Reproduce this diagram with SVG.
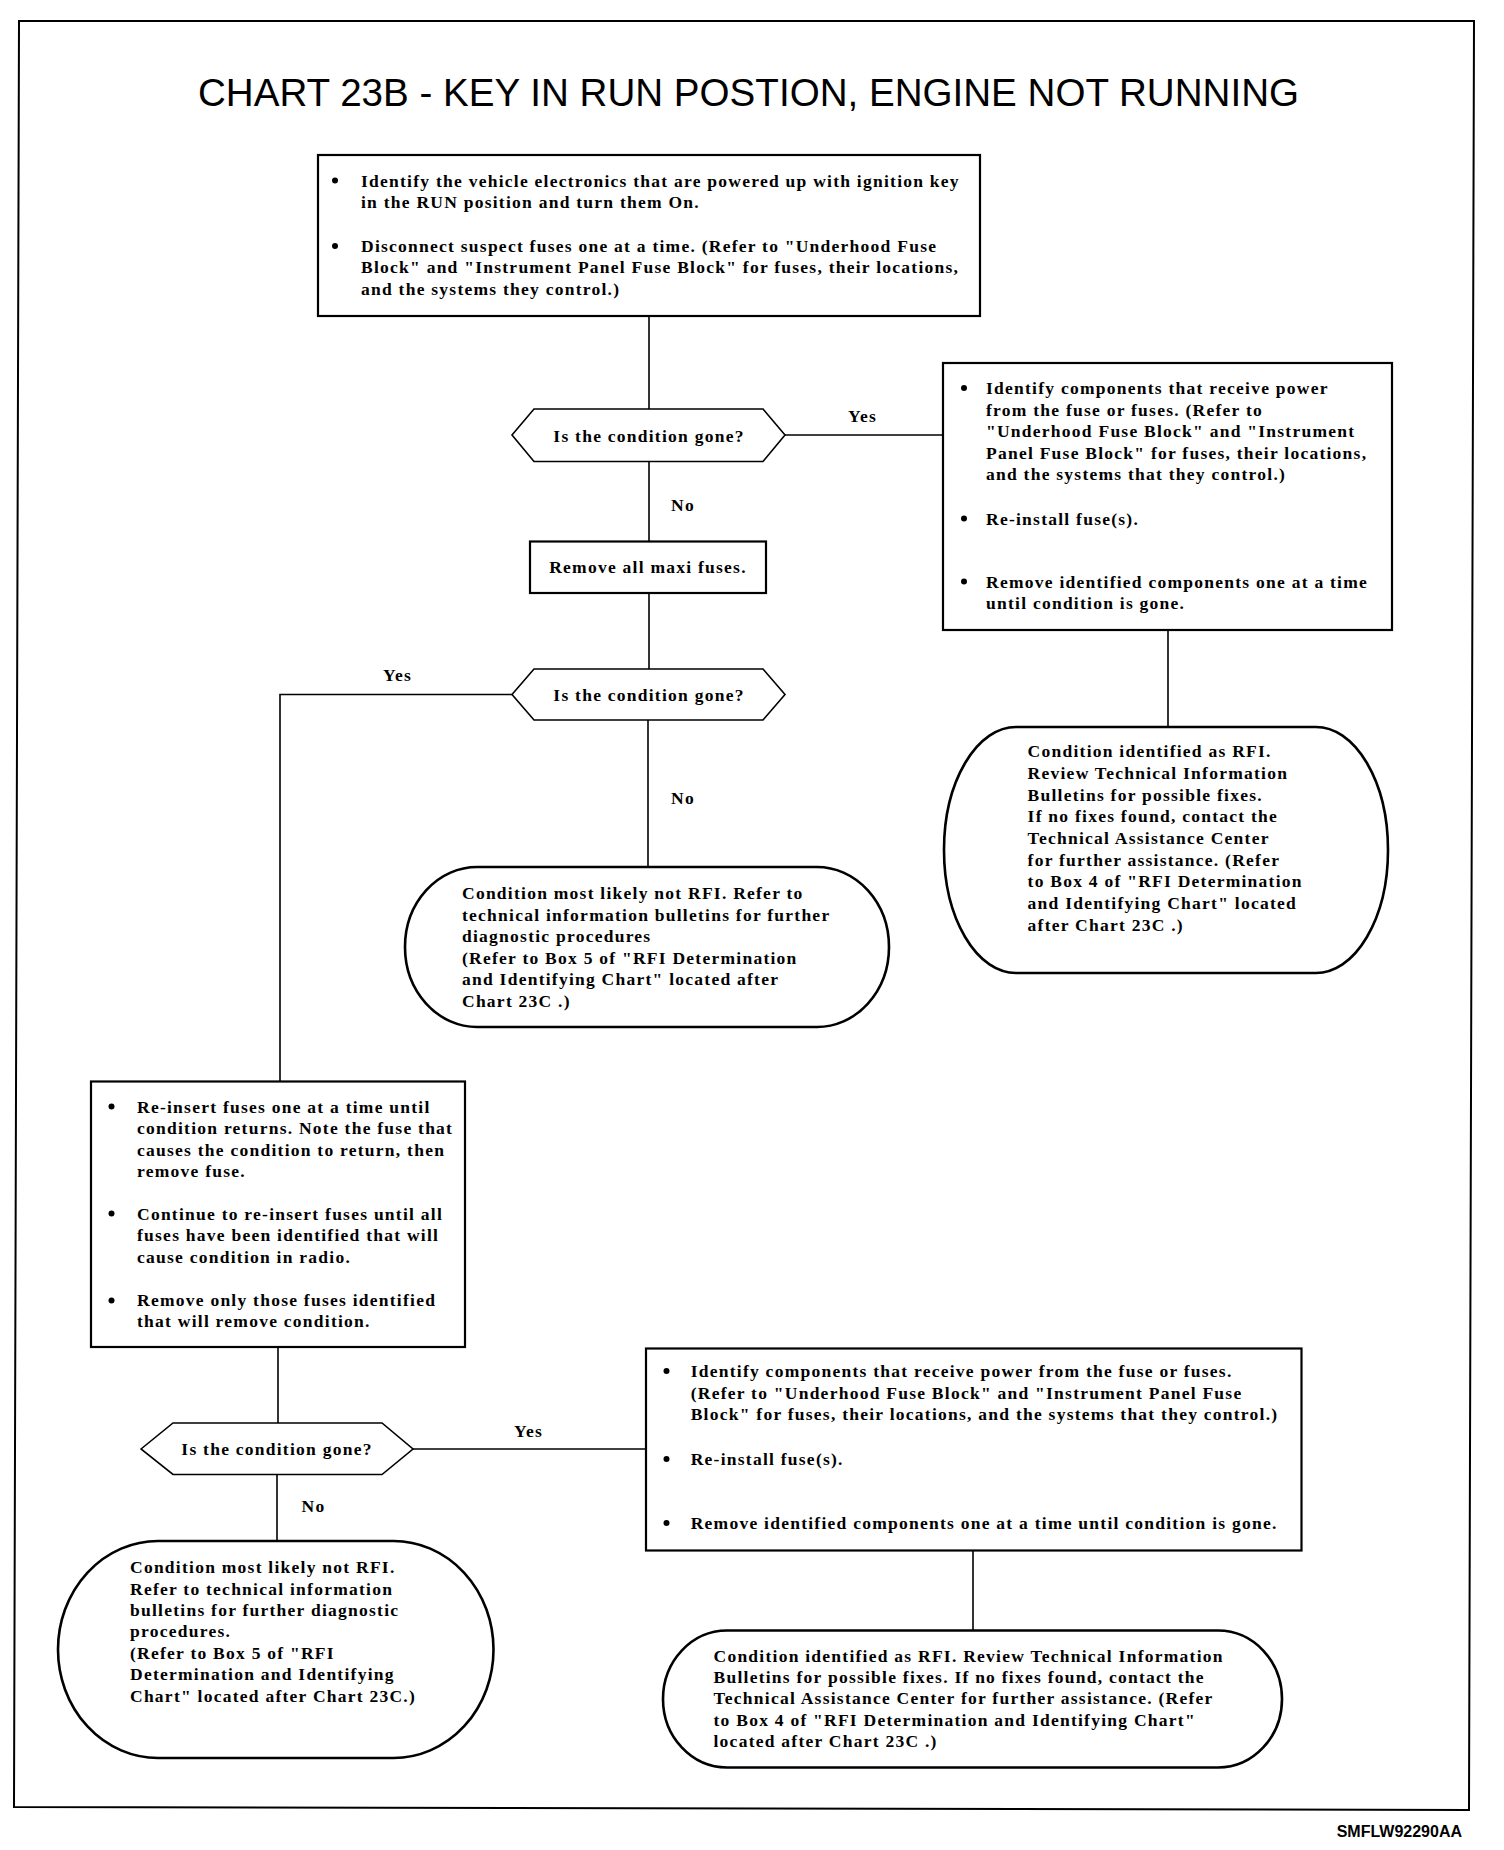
<svg xmlns="http://www.w3.org/2000/svg" width="1504" height="1850" viewBox="0 0 1504 1850">
<style>
.t{font-family:"Liberation Serif","Times New Roman",serif;font-weight:bold;font-size:17.5px;letter-spacing:1.25px;fill:#000}
.c{text-anchor:middle}
.box{fill:#fff;stroke:#000;stroke-width:2.2}
.term{fill:#fff;stroke:#000;stroke-width:2.6}
.dec{fill:#fff;stroke:#000;stroke-width:1.6}
.conn{fill:none;stroke:#000;stroke-width:1.6}
.frame{fill:none;stroke:#000;stroke-width:2}
.title{font-family:"Liberation Sans",Arial,sans-serif;font-size:38.6px;text-anchor:middle;fill:#000}
.code{font-family:"Liberation Sans",Arial,sans-serif;font-size:16px;font-weight:bold;text-anchor:end;fill:#000}
.dot{fill:#000}
</style>
<rect x="0" y="0" width="1504" height="1850" fill="#fff"/>
<polygon class="frame" points="19,21 1474,21 1469,1810 14,1807"/>
<text class="title" x="748.5" y="106">CHART 23B - KEY IN RUN POSTION, ENGINE NOT RUNNING</text>

<g id="connectors">
<path class="conn" d="M649 316 V409"/>
<path class="conn" d="M649 461.5 V541.5"/>
<path class="conn" d="M649 593 V669"/>
<path class="conn" d="M512 694.5 H280 V1081.5"/>
<path class="conn" d="M648 720 V867"/>
<path class="conn" d="M785 435 H943"/>
<path class="conn" d="M1168 630 V727"/>
<path class="conn" d="M278 1347 V1423"/>
<path class="conn" d="M413 1449 H646"/>
<path class="conn" d="M277 1474.5 V1541"/>
<path class="conn" d="M973 1550.5 V1630.5"/>
<text class="t" x="848" y="422">Yes</text>
<text class="t" x="671" y="511">No</text>
<text class="t" x="383" y="681">Yes</text>
<text class="t" x="671" y="804">No</text>
<text class="t" x="514" y="1437">Yes</text>
<text class="t" x="301.5" y="1512">No</text>
</g>

<g id="box1">
<rect class="box" x="318" y="155" width="662" height="161"/>
<circle class="dot" cx="335" cy="180.5" r="3"/>
<circle class="dot" cx="335" cy="246" r="3"/>
<text class="t" x="361" y="186.6">Identify the vehicle electronics that are powered up with ignition key</text>
<text class="t" x="361" y="207.5">in the RUN position and turn them On.</text>
<text class="t" x="361" y="252">Disconnect suspect fuses one at a time. (Refer to "Underhood Fuse</text>
<text class="t" x="361" y="273">Block" and "Instrument Panel Fuse Block" for fuses, their locations,</text>
<text class="t" x="361" y="294.7">and the systems they control.)</text>
</g>

<g id="decision1">
<polygon class="dec" points="512,435 534,409 763,409 785,435 763,461.5 534,461.5"/>
<text class="t c" x="649" y="441.5">Is the condition gone?</text>
</g>

<g id="box2">
<rect class="box" x="943" y="363" width="449" height="267"/>
<circle class="dot" cx="964" cy="388" r="3"/>
<circle class="dot" cx="964" cy="518.5" r="3"/>
<circle class="dot" cx="964" cy="581.5" r="3"/>
<text class="t" x="986" y="394">Identify components that receive power</text>
<text class="t" x="986" y="415.5">from the fuse or fuses. (Refer to</text>
<text class="t" x="986" y="437">"Underhood Fuse Block" and "Instrument</text>
<text class="t" x="986" y="458.5">Panel Fuse Block" for fuses, their locations,</text>
<text class="t" x="986" y="480">and the systems that they control.)</text>
<text class="t" x="986" y="524.5">Re-install fuse(s).</text>
<text class="t" x="986" y="587.5">Remove identified components one at a time</text>
<text class="t" x="986" y="609">until condition is gone.</text>
</g>

<g id="box-maxi">
<rect class="box" x="530" y="541.5" width="236" height="51.5"/>
<text class="t c" x="648" y="572.5">Remove all maxi fuses.</text>
</g>

<g id="decision2">
<polygon class="dec" points="512,694.5 534,669 763,669 785,694.5 763,720 534,720"/>
<text class="t c" x="649" y="701">Is the condition gone?</text>
</g>

<g id="oval2">
<rect class="term" x="944" y="727" width="444" height="246" rx="72" ry="123"/>
<text class="t" x="1027.6" y="757">Condition identified as RFI.</text>
<text class="t" x="1027.6" y="779">Review Technical Information</text>
<text class="t" x="1027.6" y="800.5">Bulletins for possible fixes.</text>
<text class="t" x="1027.6" y="822">If no fixes found, contact the</text>
<text class="t" x="1027.6" y="844">Technical Assistance Center</text>
<text class="t" x="1027.6" y="865.5">for further assistance. (Refer</text>
<text class="t" x="1027.6" y="887">to Box 4 of "RFI Determination</text>
<text class="t" x="1027.6" y="909">and Identifying Chart" located</text>
<text class="t" x="1027.6" y="930.5">after Chart 23C .)</text>
</g>

<g id="oval1">
<rect class="term" x="405" y="867" width="484" height="160" rx="72" ry="80"/>
<text class="t" x="462" y="899">Condition most likely not RFI. Refer to</text>
<text class="t" x="462" y="920.5">technical information bulletins for further</text>
<text class="t" x="462" y="942">diagnostic procedures</text>
<text class="t" x="462" y="963.5">(Refer to Box 5 of "RFI Determination</text>
<text class="t" x="462" y="985">and Identifying Chart" located after</text>
<text class="t" x="462" y="1006.5">Chart 23C .)</text>
</g>

<g id="box3">
<rect class="box" x="91" y="1081.5" width="374" height="265.5"/>
<circle class="dot" cx="111.5" cy="1106.5" r="3"/>
<circle class="dot" cx="111.5" cy="1213.5" r="3"/>
<circle class="dot" cx="111.5" cy="1300.5" r="3"/>
<text class="t" x="137" y="1112.5">Re-insert fuses one at a time until</text>
<text class="t" x="137" y="1134.3">condition returns. Note the fuse that</text>
<text class="t" x="137" y="1156">causes the condition to return, then</text>
<text class="t" x="137" y="1177.3">remove fuse.</text>
<text class="t" x="137" y="1219.5">Continue to re-insert fuses until all</text>
<text class="t" x="137" y="1240.8">fuses have been identified that will</text>
<text class="t" x="137" y="1262.5">cause condition in radio.</text>
<text class="t" x="137" y="1306.4">Remove only those fuses identified</text>
<text class="t" x="137" y="1327.3">that will remove condition.</text>
</g>

<g id="decision3">
<polygon class="dec" points="141,1449 173,1423 382,1423 413,1449 382,1474.5 173,1474.5"/>
<text class="t c" x="277" y="1455">Is the condition gone?</text>
</g>

<g id="box4">
<rect class="box" x="646" y="1348.5" width="655.5" height="202"/>
<circle class="dot" cx="666.5" cy="1371" r="3"/>
<circle class="dot" cx="666.5" cy="1459" r="3"/>
<circle class="dot" cx="666.5" cy="1523" r="3"/>
<text class="t" x="690.7" y="1377">Identify components that receive power from the fuse or fuses.</text>
<text class="t" x="690.7" y="1398.5">(Refer to "Underhood Fuse Block" and "Instrument Panel Fuse</text>
<text class="t" x="690.7" y="1420">Block" for fuses, their locations, and the systems that they control.)</text>
<text class="t" x="690.7" y="1465">Re-install fuse(s).</text>
<text class="t" x="690.7" y="1529">Remove identified components one at a time until condition is gone.</text>
</g>

<g id="oval3">
<rect class="term" x="58" y="1541" width="435.5" height="217" rx="100" ry="108.5"/>
<text class="t" x="130" y="1573.3">Condition most likely not RFI.</text>
<text class="t" x="130" y="1595">Refer to technical information</text>
<text class="t" x="130" y="1616.3">bulletins for further diagnostic</text>
<text class="t" x="130" y="1637.3">procedures.</text>
<text class="t" x="130" y="1658.5">(Refer to Box 5 of "RFI</text>
<text class="t" x="130" y="1680">Determination and Identifying</text>
<text class="t" x="130" y="1702">Chart" located after Chart 23C.)</text>
</g>

<g id="oval4">
<rect class="term" x="663" y="1630.5" width="619" height="137" rx="64" ry="68.5"/>
<text class="t" x="713.5" y="1662">Condition identified as RFI. Review Technical Information</text>
<text class="t" x="713.5" y="1682.5">Bulletins for possible fixes. If no fixes found, contact the</text>
<text class="t" x="713.5" y="1703.5">Technical Assistance Center for further assistance. (Refer</text>
<text class="t" x="713.5" y="1725.5">to Box 4 of "RFI Determination and Identifying Chart"</text>
<text class="t" x="713.5" y="1747">located after Chart 23C .)</text>
</g>

<text class="code" x="1462" y="1836.5">SMFLW92290AA</text>
</svg>
